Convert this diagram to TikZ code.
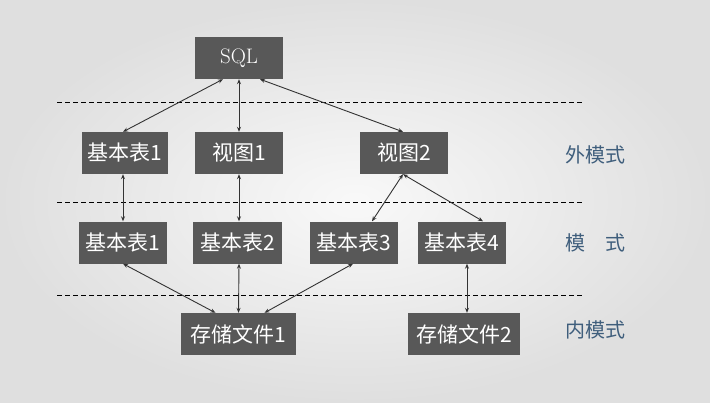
\documentclass[tikz,border=0pt]{standalone}
\usepackage{fontspec}
\newfontfamily\cjk{Noto Sans CJK SC}
\usepackage{tikz}
\usetikzlibrary{arrows.meta,positioning,shadings}

\definecolor{boxgray}{HTML}{585858}
\definecolor{labelblue}{HTML}{3F5E7C}

\begin{document}
\begin{tikzpicture}[x=1pt,y=-1pt, every node/.style={inner sep=0pt},
                        box/.style={fill=boxgray, text=white, minimum height=42pt, font=\cjk\fontsize{21}{24}\selectfont},
                        layer/.style={text=labelblue, font=\cjk\fontsize{20}{24}\selectfont},
                        link/.style={{Stealth[length=5pt,width=4pt]}-{Stealth[length=5pt,width=4pt]}, draw=black!80, line width=0.9pt},
                        sep/.style={dashed, line width=1pt, dash pattern=on 5pt off 3pt}]
        
        \shade[inner color=gray!5, outer color=gray!25] (0,0) rectangle (710,402);
        \useasboundingbox (0,0) rectangle (710,402);
        
        % layer borders
        \draw[sep] (57,102) -- (582,102);
        \draw[sep] (57,202) -- (582,202);
        \draw[sep] (57,295) -- (582,295);
        
        \node[box, minimum width=88pt, font=\rmfamily\fontsize{21}{24}\selectfont] (sql) at (239,58) {SQL};
        
        \node[box, minimum width=86pt] (ext1) at (124.5,153) {基本表1};
        \node[box, minimum width=88pt] (view1) at (239,153) {视图1};
        \node[box, minimum width=88pt] (view2) at (404,153) {视图2};
        
        \node[box, minimum width=88pt] (tab1) at (123,242.5) {基本表1};
        \node[box, minimum width=89pt] (tab2) at (237.5,242.5) {基本表2};
        \node[box, minimum width=88pt] (tab3) at (354,242.5) {基本表3};
        \node[box, minimum width=88pt] (tab4) at (462,242.5) {基本表4};
        
        \node[box, minimum width=115pt] (file1) at (238.5,334) {存储文件1};
        \node[box, minimum width=112pt] (file2) at (464,334) {存储文件2};
        
        \node[layer] (outer) at (595,155) {外模式};
        \node[layer] (mid) at (595,243) {模\hspace{1em}式};
        \node[layer] (inner) at (595,330) {内模式};
        
        \draw[link] ([xshift=-16pt]sql.south) -- ([xshift=-1.5pt]ext1.north);
        \draw[link] (sql.south) -- (view1.north);
        \draw[link] ([xshift=21pt]sql.south) -- ([xshift=-1pt]view2.north);
        
        \draw[link] ([xshift=-1.5pt]ext1.south) -- (tab1.north);
        \draw[link] (view1.south) -- ([xshift=1.5pt]tab2.north);
        \draw[link] ([xshift=-1pt]view2.south) -- ([xshift=18pt]tab3.north);
        \draw[link] ([xshift=-1pt]view2.south) -- ([xshift=21pt]tab4.north);
        
        \draw[link] (tab1.south) -- ([xshift=-23pt]file1.north);
        \draw[link] ([xshift=1.5pt]tab2.south) -- (file1.north);
        \draw[link] ([xshift=-1pt]tab3.south) -- ([xshift=26pt]file1.north);
        \draw[link] ([xshift=5pt]tab4.south) -- ([xshift=3pt]file2.north);
    \end{tikzpicture}
\end{document}
